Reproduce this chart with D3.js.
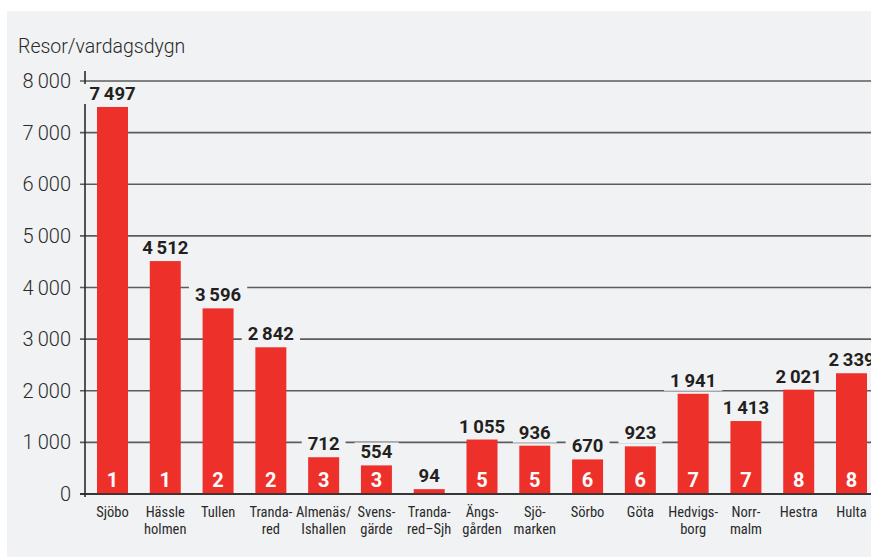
<!DOCTYPE html>
<html>
<head>
<meta charset="utf-8">
<script src="https://cdn.jsdelivr.net/npm/d3@7/dist/d3.min.js"></script>
<style>
  html, body { margin: 0; padding: 0; background: #ffffff; }
  svg { display: block; }
  .tick-label { font-family: Roboto, "Liberation Sans", sans-serif; font-weight: 300; font-size: 20px; fill: #2a2a2a; }
  .title { font-family: Roboto, "Liberation Sans", sans-serif; font-weight: 300; font-size: 19.5px; fill: #2a2a2a; }
  .value { font-family: Roboto, "Liberation Sans", sans-serif; font-weight: 700; font-size: 18.5px; fill: #231f20; }
  .zone { font-family: Roboto, "Liberation Sans", sans-serif; font-weight: 700; font-size: 20px; fill: #ffffff; }
  .cat { font-family: "Liberation Sans Narrow", "Roboto Condensed", "Liberation Sans", sans-serif; font-stretch: condensed; font-size: 14.5px; fill: #2a2a2a; }
</style>
</head>
<body>
<svg id="chart" width="871" height="558"></svg>
<script>
// Stations (two-line labels split on "\n")
const categories = [
  "Sjöbo", "Hässle\nholmen", "Tullen", "Tranda-\nred", "Almenäs/\nIshallen",
  "Svens-\ngärde", "Tranda-\nred–Sjh", "Ängs-\ngården", "Sjö-\nmarken", "Sörbo",
  "Göta", "Hedvigs-\nborg", "Norr-\nmalm", "Hestra", "Hulta"
];
// Trips per weekday
const trips = [7497, 4512, 3596, 2842, 712, 554, 94, 1055, 936, 670, 923, 1941, 1413, 2021, 2339];
// Route number printed at the foot of each bar
const routes = [1, 1, 2, 2, 3, 3, null, 5, 5, 6, 6, 7, 7, 8, 8];
// Y axis ticks
const yTicks = [0, 1000, 2000, 3000, 4000, 5000, 6000, 7000, 8000];

const W = 871, H = 558;
const panelColor = "#f1f2f4";
const barColor = "#ee302b";
const gridColor = "#5c5c5e";

const svg = d3.select("#chart");
const locale = d3.formatLocale({ decimal: ",", thousands: "\u2009", grouping: [3], currency: ["", " kr"] });
const fmt = locale.format(",d");

// background panel
svg.append("rect").attr("x", 7).attr("y", 11).attr("width", W - 7).attr("height", 546).attr("fill", panelColor);

const y = d3.scaleLinear().domain([0, 8000]).range([494, 81]);
const x = d3.scaleBand().domain(categories).range([75.2, 888.8]).paddingInner(0.413).paddingOuter(0.413);

// gridlines
const grid = svg.append("g");
grid.selectAll("line").data(yTicks).join("line")
  .attr("x1", 80).attr("x2", W)
  .attr("y1", d => y(d)).attr("y2", d => y(d))
  .attr("stroke", d => d === 0 ? "#2a2a2a" : gridColor)
  .attr("stroke-width", 1.6);

// tick labels
svg.append("g").selectAll("text").data(yTicks).join("text")
  .attr("class", "tick-label")
  .attr("x", 71).attr("y", d => y(d) + 7)
  .attr("text-anchor", "end")
  .text(d => fmt(d));

// y axis line
svg.append("line").attr("x1", 85).attr("x2", 85).attr("y1", 71).attr("y2", 497)
  .attr("stroke", "#2a2a2a").attr("stroke-width", 1.6);

// title
svg.append("text").attr("class", "title").attr("x", 18).attr("y", 53).text("Resor/vardagsdygn");

const data = categories.map((c, i) => ({ c, v: trips[i], r: routes[i] }));

// value labels with panel-coloured backing to break gridlines
const vl = svg.append("g").selectAll("g").data(data).join("g");
vl.append("text")
  .attr("class", "value")
  .attr("x", d => x(d.c) + x.bandwidth() / 2)
  .attr("y", d => y(d.v) - 7)
  .attr("text-anchor", "middle")
  .text(d => fmt(d.v));
vl.each(function () {
  const g = d3.select(this);
  const bb = g.select("text").node().getBBox();
  g.insert("rect", "text")
    .attr("x", bb.x - 6).attr("y", bb.y + 1)
    .attr("width", bb.width + 12).attr("height", bb.height - 2)
    .attr("fill", panelColor);
});

// bars
svg.append("g").selectAll("rect").data(data).join("rect")
  .attr("x", d => x(d.c))
  .attr("y", d => y(d.v))
  .attr("width", x.bandwidth())
  .attr("height", d => y(0) - y(d.v))
  .attr("fill", barColor);

// baseline redrawn over bars
svg.append("line").attr("x1", 80).attr("x2", W).attr("y1", y(0)).attr("y2", y(0))
  .attr("stroke", "#2a2a2a").attr("stroke-width", 1.6);

// route numbers
svg.append("g").selectAll("text").data(data.filter(d => d.r !== null)).join("text")
  .attr("class", "zone")
  .attr("x", d => x(d.c) + x.bandwidth() / 2)
  .attr("y", 487)
  .attr("text-anchor", "middle")
  .text(d => d.r);

// category labels, one text element per line
const catLines = data.flatMap(d => d.c.split("\n").map((line, i) => ({ c: d.c, line, i })));
svg.append("g").selectAll("text").data(catLines).join("text")
  .attr("class", "cat")
  .attr("text-anchor", "middle")
  .attr("x", d => x(d.c) + x.bandwidth() / 2)
  .attr("y", d => 517 + d.i * 16.5)
  .text(d => d.line);
</script>
</body>
</html>
